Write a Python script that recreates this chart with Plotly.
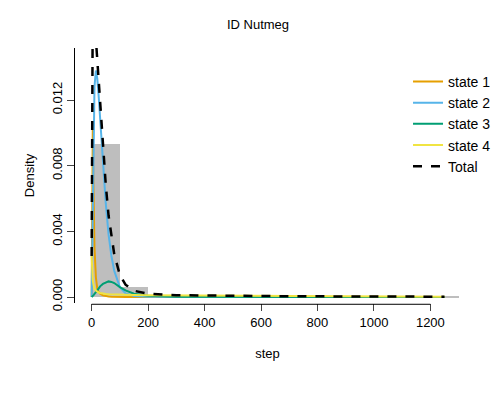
import plotly.graph_objects as go
import numpy as np

hist_left = [0, 100, 200, 300, 400, 500, 600, 700, 800, 900, 1000, 1100, 1200]
hist_dens = [0.0093, 0.00062, 0.00004, 0.00001, 0.00001, 0.000005, 0.000005, 0.000003, 0.000003, 0.000002, 0.000002, 0.000001, 0.000001]

steps = [0, 2, 4, 6, 8, 10, 15, 20, 25, 30, 40, 50, 60, 70, 80, 100, 120, 150, 200, 300, 400, 600, 800, 1000, 1250]
state1 = [0.0, 0.0095, 0.0103, 0.007, 0.0045, 0.003, 0.0012, 0.0005, 0.0003, 0.0002, 0.0001, 0.00005, 0.00003, 0.00002, 0.00001, 0, 0, 0, 0, 0, 0, 0, 0, 0, 0]
state2 = [0.0, 0.0035, 0.0068, 0.0095, 0.0115, 0.0128, 0.0138, 0.0133, 0.0122, 0.0108, 0.0080, 0.0057, 0.0038, 0.0025, 0.0016, 0.0006, 0.00022, 0.00006, 0.00001, 0, 0, 0, 0, 0, 0]
state3 = [0.0, 0.00002, 0.00005, 0.0001, 0.00014, 0.0002, 0.0003, 0.0004, 0.00055, 0.00065, 0.0008, 0.0009, 0.00095, 0.00092, 0.00085, 0.0006, 0.0004, 0.0002, 0.00008, 0.00001, 0, 0, 0, 0, 0]
state4 = [0.0025, 0.0014, 0.001, 0.0008, 0.0006, 0.0005, 0.0004, 0.0003, 0.00027, 0.00025, 0.0002, 0.00018, 0.00017, 0.00016, 0.00015, 0.00014, 0.00013, 0.00012, 0.00011, 0.0001, 0.00008, 0.00006, 0.00004, 0.00003, 0.00002]
total = list(np.array(state1) + np.array(state2) + np.array(state3) + np.array(state4))

fig = go.Figure()
fig.add_bar(x=[l + 50 for l in hist_left], y=hist_dens, width=100, marker_color="#BEBEBE",
            marker_line_width=0, showlegend=False)
for name, ys, col in [("state 1", state1, "#E69F00"), ("state 2", state2, "#56B4E9"),
                      ("state 3", state3, "#009E73"), ("state 4", state4, "#F0E442")]:
    fig.add_scatter(x=steps, y=ys, mode="lines", name=name, line=dict(color=col, width=2))
fig.add_scatter(x=steps, y=total, mode="lines", name="Total",
                line=dict(color="black", width=2.5, dash="dash"))

fig.update_layout(
    width=500, height=400, plot_bgcolor="white", paper_bgcolor="white",
    margin=dict(l=67, r=43, t=40, b=105), bargap=0,
    font=dict(family="Liberation Sans", size=13, color="black"),
    title=dict(text="ID Nutmeg", x=0.5, y=0.97, xanchor="center", font=dict(size=13)),
    legend=dict(x=0.865, y=0.93, xanchor="left", yanchor="top", bgcolor="rgba(0,0,0,0)",
                font=dict(size=14), tracegroupgap=0),
    xaxis=dict(range=[-59, 1305], tickvals=[0, 200, 400, 600, 800, 1000, 1200], showgrid=False,
               zeroline=False, showline=False, ticks="outside", ticklen=7,
               title=dict(text="step", standoff=20, font=dict(size=13))),
    yaxis=dict(range=[-0.000365, 0.01517], tickvals=[0, 0.004, 0.008, 0.012], tickformat=".3f",
               showgrid=False, zeroline=False, showline=True, linecolor="black", ticks="outside",
               ticklen=7, tickangle=-90, title=dict(text="Density", standoff=12, font=dict(size=13))),
)
fig.add_shape(type="line", xref="x", yref="paper", x0=0, x1=1200, y0=-0.005, y1=-0.005,
              line=dict(color="black", width=1), layer="above")
fig.write_html("out.html")
